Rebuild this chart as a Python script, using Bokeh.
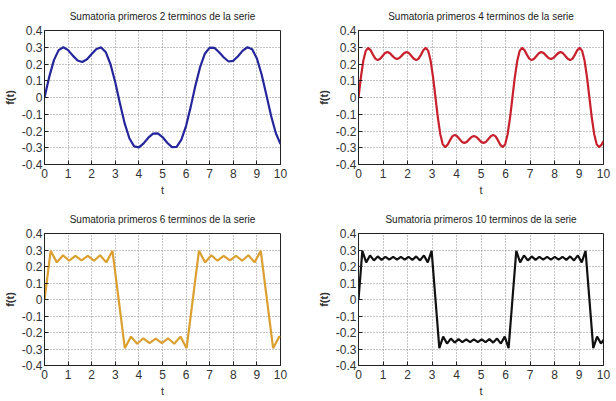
from bokeh.plotting import figure
from bokeh.layouts import column, row
from bokeh.models import FixedTicker, Range1d
from bokeh.embed import file_html
from bokeh.resources import INLINE

# ---------------- data ----------------
x_ticks = [0, 1, 2, 3, 4, 5, 6, 7, 8, 9, 10]
x_tick_labels = ["0", "1", "2", "3", "4", "5", "6", "7", "8", "9", "10"]
y_ticks = [-0.4, -0.3, -0.2, -0.1, 0, 0.1, 0.2, 0.3, 0.4]
y_tick_labels = ["-0.4", "-0.3", "-0.2", "-0.1", "0", "0.1", "0.2", "0.3", "0.4"]

titles = [
    "Sumatoria primeros 2 terminos de la serie",
    "Sumatoria primeros 4 terminos de la serie",
    "Sumatoria primeros 6 terminos de la serie",
    "Sumatoria primeros 10 terminos de la serie",
]

# 2 terms
t2 = [0, 0.2, 0.4, 0.6, 0.8, 1.0, 1.2, 1.4, 1.6, 1.8, 2.0, 2.2, 2.4, 2.6, 2.8,
      3.0, 3.2, 3.4, 3.6, 3.8, 4.0, 4.2, 4.4, 4.6, 4.8, 5.0, 5.2, 5.4, 5.6, 5.8,
      6.0, 6.2, 6.4, 6.6, 6.8, 7.0, 7.2, 7.4, 7.6, 7.8, 8.0, 8.2, 8.4, 8.6, 8.8,
      9.0, 9.2, 9.4, 9.6, 9.8, 10.0]
f2 = [0, 0.123, 0.223, 0.283, 0.300, 0.283, 0.250, 0.221, 0.212, 0.228, 0.260,
      0.290, 0.299, 0.270, 0.197, 0.089, -0.037, -0.156, -0.245, -0.292, -0.298,
      -0.274, -0.240, -0.216, -0.214, -0.236, -0.270, -0.296, -0.295, -0.252,
      -0.169, -0.053, 0.074, 0.185, 0.263, 0.298, 0.296, 0.270, 0.239, 0.215,
      0.219, 0.246, 0.280, 0.300, 0.288, 0.233, 0.137, 0.016, -0.109, -0.212,
      -0.278]

# 4 terms
t4 = [0, 0.098, 0.196, 0.295, 0.393, 0.491, 0.589, 0.687, 0.785, 0.884, 0.982,
      1.080, 1.178, 1.276, 1.374, 1.473, 1.571, 1.669, 1.767, 1.865, 1.963,
      2.062, 2.160, 2.258, 2.356, 2.454, 2.553, 2.651, 2.749, 2.847, 2.945,
      3.043, 3.142, 3.240, 3.338, 3.436, 3.534, 3.632, 3.731, 3.829, 3.927,
      4.025, 4.123, 4.222, 4.320, 4.418, 4.516, 4.614, 4.712, 4.811, 4.909,
      5.007, 5.105, 5.203, 5.301, 5.400, 5.498, 5.596, 5.694, 5.792, 5.890,
      5.989, 6.087, 6.185, 6.283, 6.381, 6.480, 6.578, 6.676, 6.774, 6.872,
      6.970, 7.069, 7.167, 7.265, 7.363, 7.461, 7.560, 7.658, 7.756, 7.854,
      7.952, 8.050, 8.149, 8.247, 8.345, 8.443, 8.541, 8.639, 8.738, 8.836,
      8.934, 9.032, 9.130, 9.228, 9.327, 9.425, 9.523, 9.621, 9.719, 9.817,
      9.915, 10.0]
f4 = [0, 0.121, 0.219, 0.278, 0.296, 0.283, 0.256, 0.232, 0.223, 0.231, 0.248,
      0.265, 0.271, 0.265, 0.250, 0.236, 0.230, 0.236, 0.250, 0.265, 0.271,
      0.265, 0.248, 0.231, 0.223, 0.232, 0.256, 0.283, 0.296, 0.278, 0.219,
      0.121,
      0, -0.121, -0.219, -0.278, -0.296, -0.283, -0.256, -0.232, -0.223, -0.231,
      -0.248, -0.265, -0.271, -0.265, -0.250, -0.236, -0.230, -0.236, -0.250,
      -0.265, -0.271, -0.265, -0.248, -0.231, -0.223, -0.232, -0.256, -0.283,
      -0.296, -0.278, -0.219, -0.121,
      0, 0.121, 0.219, 0.278, 0.296, 0.283, 0.256, 0.232, 0.223, 0.231, 0.248,
      0.265, 0.271, 0.265, 0.250, 0.236, 0.230, 0.236, 0.250, 0.265, 0.271,
      0.265, 0.248, 0.231, 0.223, 0.232, 0.256, 0.283, 0.296, 0.278, 0.219,
      0.121,
      0, -0.121, -0.219, -0.278, -0.296, -0.283, -0.260]

# 6 terms
t6 = [0, 0.262, 0.524, 0.785, 1.047, 1.309, 1.571, 1.833, 2.094, 2.356, 2.618,
      2.880, 3.142, 3.403, 3.665, 3.927, 4.189, 4.451, 4.712, 4.974, 5.236,
      5.498, 5.760, 6.021, 6.283, 6.545, 6.807, 7.069, 7.330, 7.592, 7.854,
      8.116, 8.378, 8.639, 8.901, 9.163, 9.425, 9.687, 9.948, 10.0]
f6 = [0, 0.295, 0.225, 0.268, 0.235, 0.264, 0.237, 0.264, 0.235, 0.268, 0.225,
      0.295,
      0, -0.295, -0.225, -0.268, -0.235, -0.264, -0.237, -0.264, -0.235, -0.268,
      -0.225, -0.295,
      0, 0.295, 0.225, 0.268, 0.235, 0.264, 0.237, 0.264, 0.235, 0.268, 0.225,
      0.295,
      0, -0.295, -0.225, -0.229]

# 10 terms
t10 = [0, 0.157, 0.314, 0.471, 0.628, 0.785, 0.942, 1.100, 1.257, 1.414, 1.571,
       1.728, 1.885, 2.042, 2.199, 2.356, 2.513, 2.670, 2.827, 2.985, 3.142,
       3.299, 3.456, 3.613, 3.770, 3.927, 4.084, 4.241, 4.398, 4.555, 4.712,
       4.869, 5.027, 5.184, 5.341, 5.498, 5.655, 5.812, 5.969, 6.126, 6.283,
       6.440, 6.597, 6.754, 6.912, 7.069, 7.226, 7.383, 7.540, 7.697, 7.854,
       8.011, 8.168, 8.325, 8.482, 8.639, 8.796, 8.954, 9.111, 9.268, 9.425,
       9.582, 9.739, 9.896, 10.0]
f10 = [0, 0.295, 0.225, 0.267, 0.237, 0.261, 0.240, 0.259, 0.242, 0.258, 0.242,
       0.258, 0.242, 0.259, 0.240, 0.261, 0.237, 0.267, 0.225, 0.295,
       0, -0.295, -0.225, -0.267, -0.237, -0.261, -0.240, -0.259, -0.242, -0.258,
       -0.242, -0.258, -0.242, -0.259, -0.240, -0.261, -0.237, -0.267, -0.225,
       -0.295,
       0, 0.295, 0.225, 0.267, 0.237, 0.261, 0.240, 0.259, 0.242, 0.258, 0.242,
       0.258, 0.242, 0.259, 0.240, 0.261, 0.237, 0.267, 0.225, 0.295,
       0, -0.295, -0.225, -0.267, -0.244]

series = [(t2, f2), (t4, f4), (t6, f6), (t10, f10)]
colors = ["#26269c", "#c8202c", "#dba030", "#111111"]

FONT = "Liberation Sans"


def make_panel(idx, width, height, bl, br, bt, bb):
    t, f = series[idx]
    p = figure(width=width, height=height, output_backend="svg",
               toolbar_location=None, x_range=Range1d(0, 10),
               y_range=Range1d(-0.4, 0.4),
               min_border_left=bl, min_border_right=br,
               min_border_top=bt, min_border_bottom=bb,
               background_fill_color="white", border_fill_color="white")
    p.title.text = titles[idx]
    p.title.align = "center"
    p.title.text_font = FONT
    p.title.text_font_size = "10px"
    p.title.text_font_style = "normal"
    p.title.text_color = "#222222"
    p.title.standoff = 17

    p.line(t, f, line_color=colors[idx], line_width=2.2)

    p.xaxis.ticker = FixedTicker(ticks=x_ticks)
    p.yaxis.ticker = FixedTicker(ticks=y_ticks)
    p.xaxis.major_label_overrides = dict(zip(x_ticks, x_tick_labels))
    p.yaxis.major_label_overrides = dict(zip(y_ticks, y_tick_labels))
    for ax in (p.xaxis[0], p.yaxis[0]):
        ax.major_tick_in = 4
        ax.major_tick_out = 0
        ax.minor_tick_in = 0
        ax.minor_tick_out = 0
        ax.axis_line_color = "#222222"
        ax.major_tick_line_color = "#222222"
        ax.major_label_text_font = FONT
        ax.major_label_text_font_size = "12px"
        ax.major_label_text_color = "#333333"
        ax.axis_label_text_font = FONT
        ax.axis_label_text_font_size = "11px"
        ax.axis_label_text_font_style = "normal"
        ax.axis_label_text_color = "#333333"
    p.xaxis.axis_label = "t"
    p.yaxis.axis_label = "f(t)"
    p.yaxis.axis_label_text_font_style = "bold"
    p.xaxis.major_label_standoff = 4
    p.xaxis.axis_label_standoff = 3
    p.yaxis.major_label_standoff = 2
    p.yaxis.axis_label_standoff = 3

    p.xgrid.grid_line_color = "#8a8a8a"
    p.ygrid.grid_line_color = "#8a8a8a"
    p.xgrid.grid_line_dash = "1 2"
    p.ygrid.grid_line_dash = "1 2"
    p.xgrid.grid_line_width = 1
    p.ygrid.grid_line_width = 1
    p.outline_line_color = "#222222"
    p.outline_line_width = 1
    return p


p1 = make_panel(0, 308, 200, 36, 28, 29, 36)
p2 = make_panel(1, 308, 200, 50, 13, 29, 36)
p3 = make_panel(2, 308, 201, 36, 28, 33, 36)
p4 = make_panel(3, 308, 201, 50, 13, 33, 36)

layout = column(row(p1, p2), row(p3, p4))

open("out.html", "w").write(file_html(layout, INLINE))
